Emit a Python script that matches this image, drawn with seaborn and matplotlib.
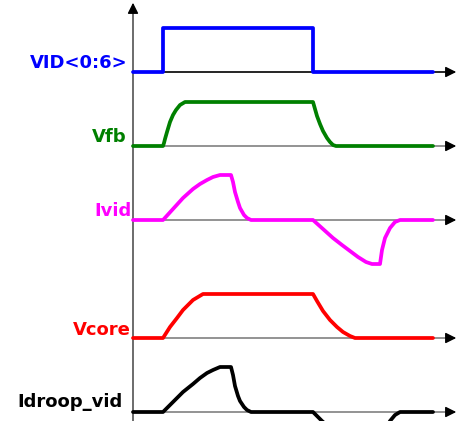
import pandas as pd
import matplotlib.pyplot as plt
import seaborn as sns

# Waveform samples: t = time (px along the time axis), h = height above each trace's baseline
vid_t = [133, 163, 163, 313, 313, 433]
vid_h = [0, 0, 44, 44, 0, 0]

vfb_t = [133, 163, 164, 165, 167, 170, 173, 176, 180, 185, 190, 313, 315, 317, 320, 323, 327, 330, 333, 336, 433]
vfb_h = [0, 0, 3, 7, 14, 24, 31, 36, 41, 44, 44, 44, 37, 30, 22, 15, 8, 4, 1, 0, 0]

ivid_t = [133, 163, 173, 183, 193, 200, 207, 213, 220, 231, 233, 235, 238, 240, 244, 247, 251,
          313, 323, 333, 342, 350, 358, 366, 372, 380, 382, 385, 390, 395, 400, 433]
ivid_h = [0, 0, 11, 22, 31, 36, 40, 43, 45, 45, 38, 28, 18, 12, 5, 2, 0,
          0, -9, -18, -25, -31, -37, -42, -44, -44, -30, -18, -8, -2, 0, 0]

vcore_t = [133, 163, 170, 177, 183, 188, 193, 198, 203, 207, 313, 317, 323, 330, 337, 343, 350, 355, 433]
vcore_h = [0, 0, 11, 20, 28, 33, 38, 41, 44, 44, 44, 37, 27, 18, 11, 6, 2, 0, 0]

idroop_t = [133, 163, 173, 183, 193, 200, 207, 213, 220, 231, 233, 235, 238, 240, 244, 247, 251,
            313, 322, 333, 342, 350, 358, 366, 372, 380, 382, 385, 390, 395, 400, 433]
idroop_h = [0, 0, 10, 20, 28, 34, 39, 42, 45, 45, 37, 26, 16, 11, 5, 2, 0,
            0, -9, -18, -25, -31, -37, -42, -44, -44, -30, -18, -9, -3, 0, 0]

signals = ["VID<0:6>", "Vfb", "Ivid", "Vcore", "Idroop_vid"]
colors = ["#0000FF", "#008000", "#FF00FF", "#FF0000", "#000000"]
baselines = [72, 146, 220, 338, 412]
label_pos = [(128, 68), (127, 142), (132, 216), (131, 335), (123, 407)]

waves = [(vid_t, vid_h), (vfb_t, vfb_h), (ivid_t, ivid_h), (vcore_t, vcore_h), (idroop_t, idroop_h)]

rows = []
for name, base, (t, h) in zip(signals, baselines, waves):
    for ti, hi in zip(t, h):
        rows.append({"signal": name, "t": ti, "y": base - hi})
df = pd.DataFrame(rows)

sns.set_style("white")
fig = plt.figure(figsize=(4.59, 4.21), dpi=100)
ax = fig.add_axes([0, 0, 1, 1])

# axes: vertical time-origin line and horizontal baselines with arrows
ax.plot([133, 133], [421, 10], color="#444444", lw=1.1, zorder=1)
ax.annotate("", xy=(133, 0), xytext=(133, 12),
            arrowprops=dict(arrowstyle="-|>", color="black", lw=1, mutation_scale=16))
for i, base in enumerate(baselines):
    ax.plot([133, 448], [base, base], color="black" if i == 0 else "#808080", lw=1.2, zorder=1)
    ax.annotate("", xy=(459, base), xytext=(446, base),
                arrowprops=dict(arrowstyle="-|>", color="black", lw=1, mutation_scale=16))

sns.lineplot(data=df, x="t", y="y", hue="signal", hue_order=signals,
             palette=dict(zip(signals, colors)), sort=False, estimator=None,
             lw=2.7, legend=False, ax=ax, zorder=3)

for name, col, (x, y) in zip(signals, colors, label_pos):
    ax.text(x, y, name, ha="right", va="baseline", fontsize=13,
            fontweight="bold", color=col)

ax.set_xlim(0, 459)
ax.set_ylim(421, 0)
ax.axis("off")
plt.savefig("out.png", dpi=100)
plt.close()
